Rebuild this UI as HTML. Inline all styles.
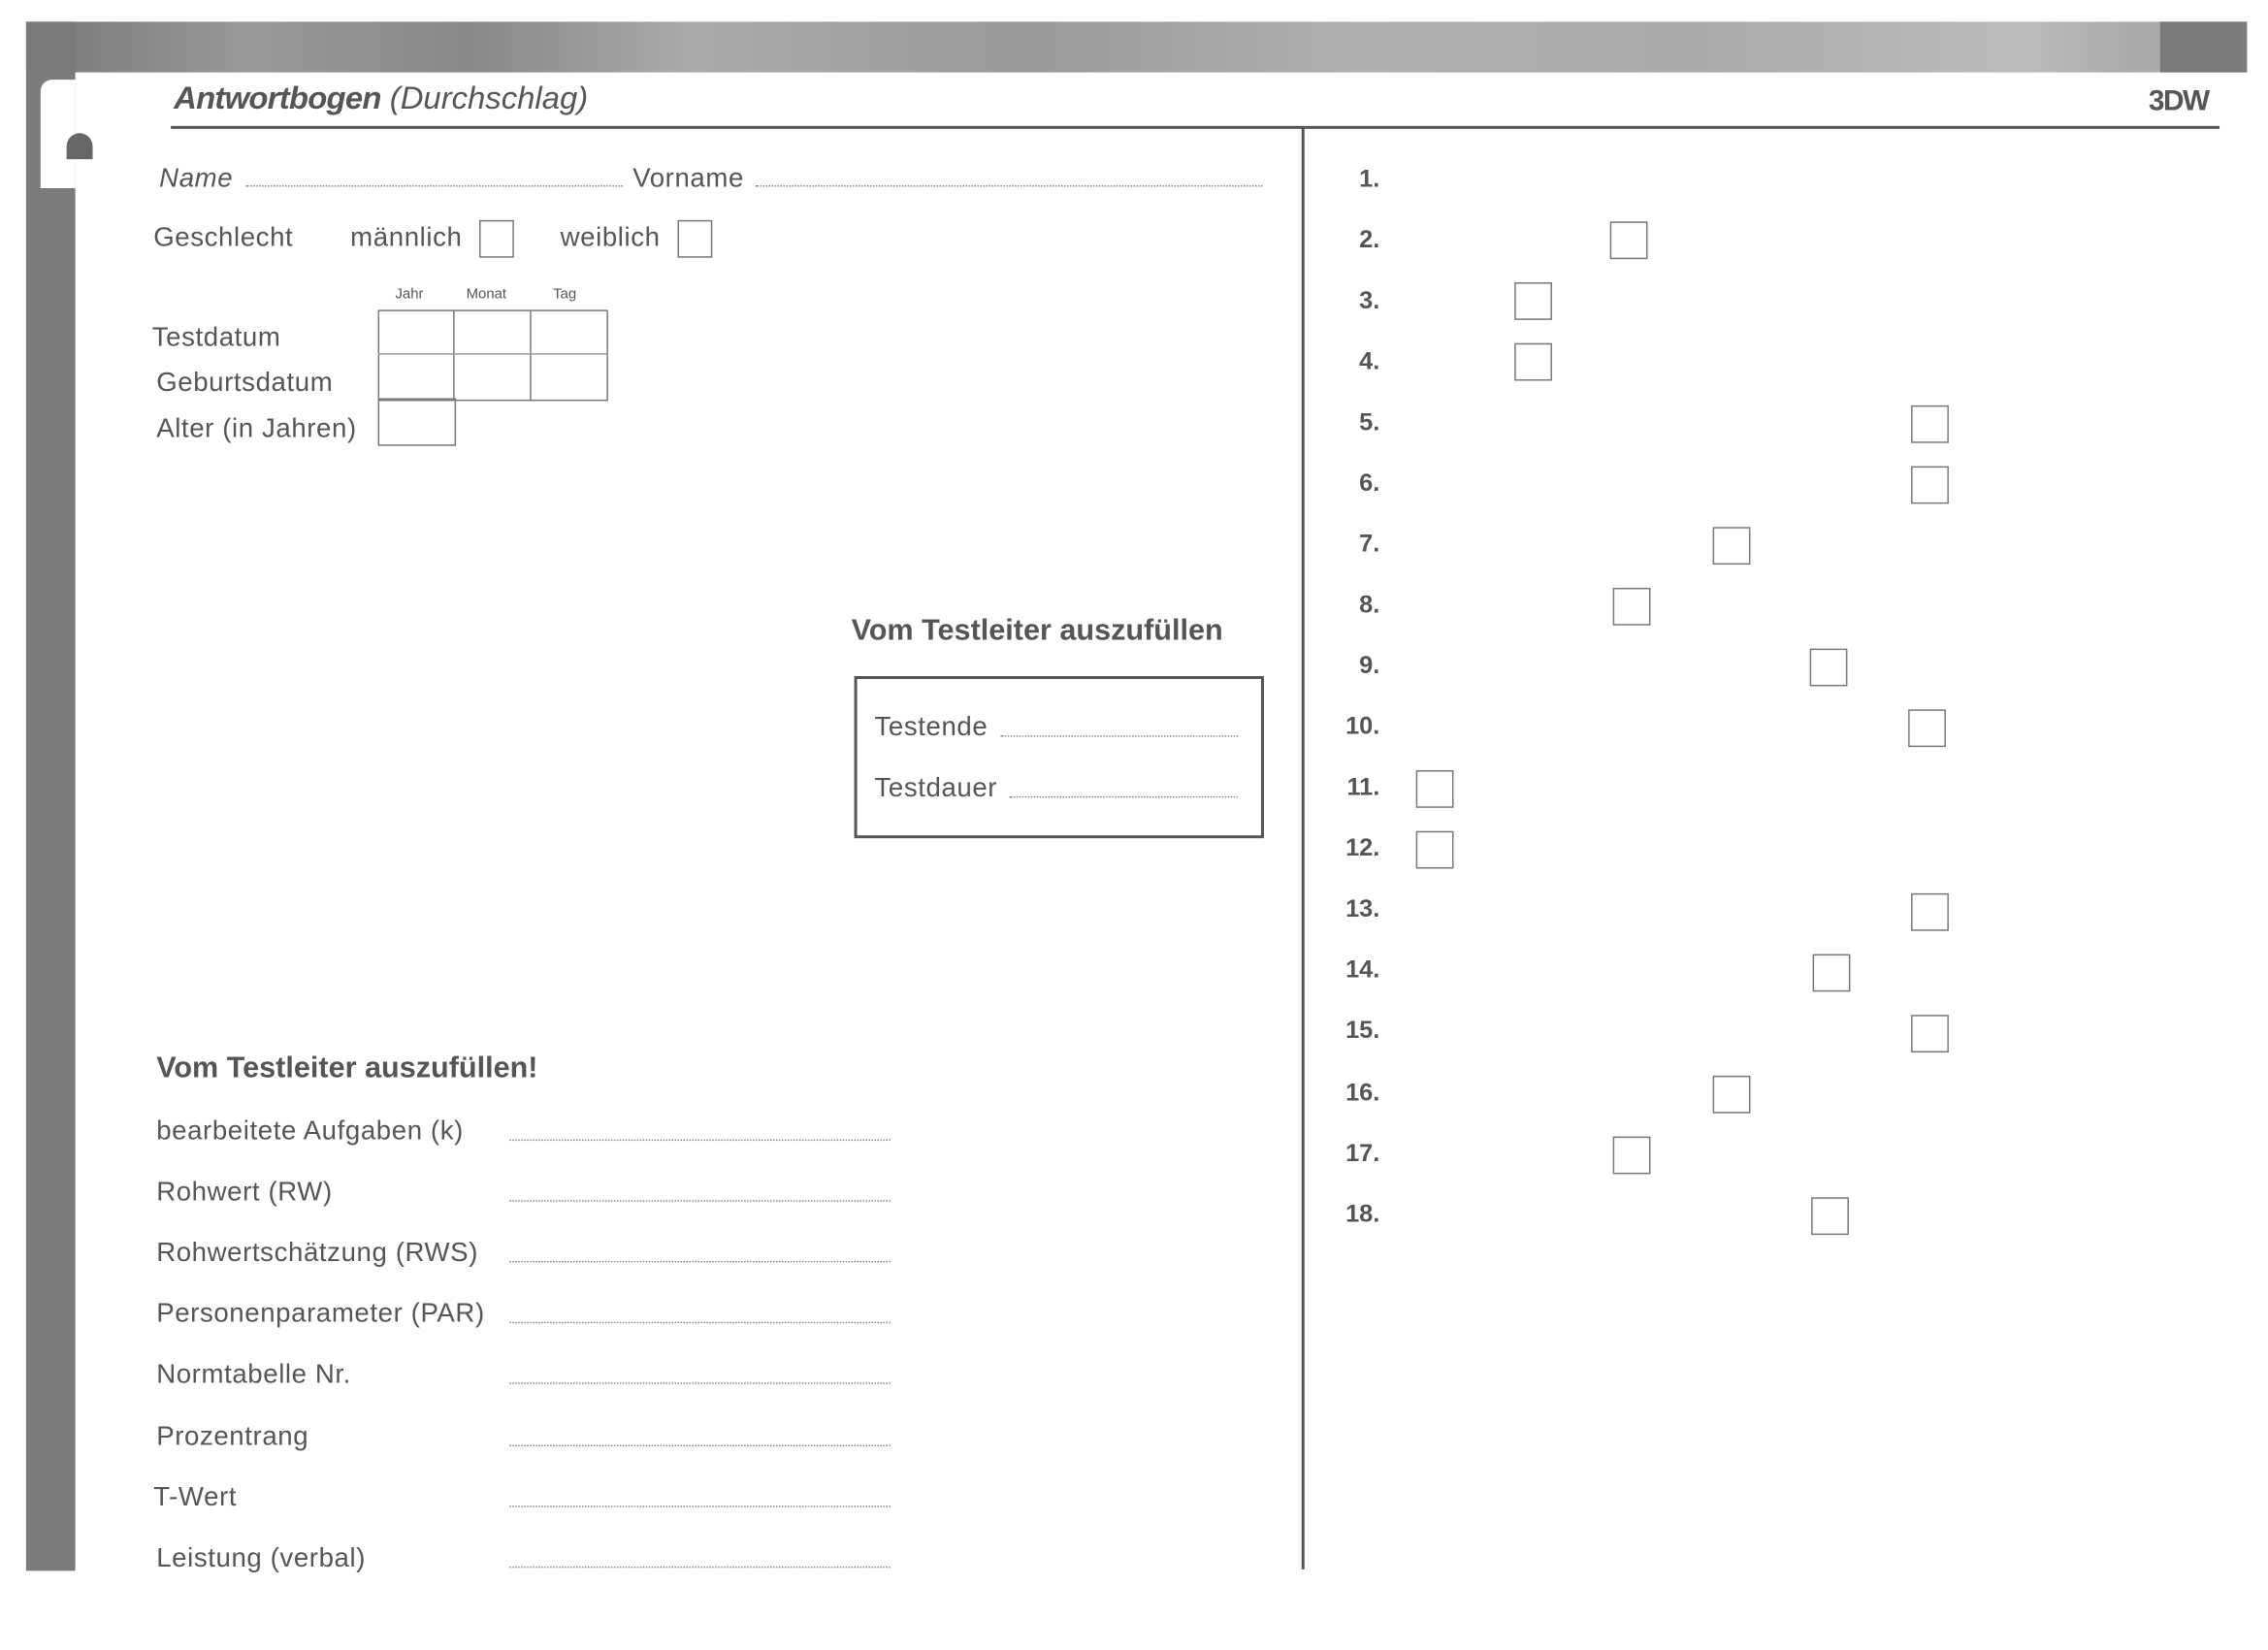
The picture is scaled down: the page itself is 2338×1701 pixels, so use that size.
<!DOCTYPE html>
<html><head><meta charset="utf-8"><style>
html,body{margin:0;padding:0;background:#fff;}
body{width:2338px;height:1700px;overflow:hidden;position:relative;}
#w{position:absolute;left:0;top:0;width:1567px;height:1140px;transform:scale(1.4925);transform-origin:0 0;font-family:"Liberation Sans",sans-serif;color:#555;}
.a{position:absolute;white-space:nowrap;}
.t{font-size:18.5px;line-height:20px;letter-spacing:0.4px;}
.dl{position:absolute;border-top:1px dotted #888;height:0;}
.bx{position:absolute;width:24px;height:24px;border:1px solid #777;}
.n{position:absolute;width:40px;text-align:right;font-weight:bold;font-size:17px;line-height:20px;left:913px;}
.g{position:absolute;border:1px solid #777;}
</style></head><body><div id="w">
<div class="a" style="left:18px;top:15px;width:1534px;height:35px;background:linear-gradient(90deg,#777 0%,#999 10%,#888 20%,#aaa 30%,#999 45%,#b0b0b0 60%,#aaa 75%,#bbb 90%,#aaa 95%)"></div>
<div class="a" style="left:1492px;top:15px;width:60px;height:35px;background:#7a7a7a"></div>
<div class="a" style="left:18px;top:15px;width:34px;height:1070px;background:#7b7b7b"></div>
<div class="a" style="left:28px;top:55px;width:24px;height:75px;background:#fff;border-radius:8px 0 0 0"></div>
<div class="a" style="left:46px;top:92px;width:18px;height:18px;background:#666;border-radius:10px 10px 0 0"></div>
<div class="a" style="left:120px;top:55px;font-size:22px;line-height:26px;font-style:italic;"><b style="letter-spacing:-0.5px">Antwortbogen</b> (Durchschlag)</div>
<div class="a" style="left:1484px;top:58px;font-size:20px;font-weight:bold;line-height:24px;letter-spacing:-1px">3DW</div>
<div class="a" style="left:118px;top:87px;width:1415px;height:2px;background:#555"></div>
<div class="a" style="left:899px;top:88px;width:2px;height:996px;background:#555"></div>
<div class="a t" style="left:110px;top:113px;font-style:italic">Name</div>
<div class="dl" style="left:170px;top:128px;width:260px"></div>
<div class="a t" style="left:437px;top:113px;">Vorname</div>
<div class="dl" style="left:522px;top:128px;width:350px"></div>
<div class="a t" style="left:106px;top:154px;">Geschlecht</div>
<div class="a t" style="left:242px;top:154px;">männlich</div>
<div class="bx" style="left:331px;top:152px;width:22px"></div>
<div class="a t" style="left:387px;top:154px;">weiblich</div>
<div class="bx" style="left:468px;top:152px;width:22px"></div>
<div class="a" style="left:273px;top:198px;font-size:10px">Jahr</div>
<div class="a" style="left:322px;top:198px;font-size:10px">Monat</div>
<div class="a" style="left:382px;top:198px;font-size:10px">Tag</div>
<div class="g" style="left:261px;top:214px;width:157px;height:61px"></div>
<div class="a" style="left:313px;top:214px;width:1px;height:62px;background:#777"></div>
<div class="a" style="left:366px;top:214px;width:1px;height:62px;background:#777"></div>
<div class="a" style="left:261px;top:244px;width:158px;height:1px;background:#999"></div>
<div class="g" style="left:261px;top:275px;width:52px;height:31px"></div>
<div class="a t" style="left:105px;top:223px;">Testdatum</div>
<div class="a t" style="left:108px;top:254px;">Geburtsdatum</div>
<div class="a t" style="left:108px;top:286px;">Alter (in Jahren)</div>
<div class="a" style="left:588px;top:424px;font-size:20.5px;font-weight:bold;line-height:24px;">Vom Testleiter auszufüllen</div>
<div class="a" style="left:590px;top:467px;width:279px;height:108px;border:2px solid #555"></div>
<div class="a t" style="left:604px;top:492px;">Testende</div>
<div class="dl" style="left:691px;top:508px;width:164px"></div>
<div class="a t" style="left:604px;top:534px;">Testdauer</div>
<div class="dl" style="left:697px;top:550px;width:158px"></div>
<div class="a" style="left:108px;top:726px;font-size:20.5px;font-weight:bold;line-height:24px;">Vom Testleiter auszufüllen!</div>
<div class="a t" style="left:108px;top:771px;">bearbeitete Aufgaben (k)</div>
<div class="a t" style="left:108px;top:813px;">Rohwert (RW)</div>
<div class="a t" style="left:108px;top:855px;">Rohwertschätzung (RWS)</div>
<div class="a t" style="left:108px;top:897px;">Personenparameter (PAR)</div>
<div class="a t" style="left:108px;top:939px;">Normtabelle Nr.</div>
<div class="a t" style="left:108px;top:982px;">Prozentrang</div>
<div class="a t" style="left:106px;top:1024px;">T-Wert</div>
<div class="a t" style="left:108px;top:1066px;">Leistung (verbal)</div>
<div class="dl" style="left:352px;top:787px;width:263px"></div>
<div class="dl" style="left:352px;top:829px;width:263px"></div>
<div class="dl" style="left:352px;top:871px;width:263px"></div>
<div class="dl" style="left:352px;top:913px;width:263px"></div>
<div class="dl" style="left:352px;top:955px;width:263px"></div>
<div class="dl" style="left:352px;top:998px;width:263px"></div>
<div class="dl" style="left:352px;top:1040px;width:263px"></div>
<div class="dl" style="left:352px;top:1082px;width:263px"></div>
<div class="n" style="top:114px">1.</div>
<div class="n" style="top:156px">2.</div><div class="bx" style="left:1112px;top:153px"></div>
<div class="n" style="top:198px">3.</div><div class="bx" style="left:1046px;top:195px"></div>
<div class="n" style="top:240px">4.</div><div class="bx" style="left:1046px;top:237px"></div>
<div class="n" style="top:282px">5.</div><div class="bx" style="left:1320px;top:280px"></div>
<div class="n" style="top:324px">6.</div><div class="bx" style="left:1320px;top:322px"></div>
<div class="n" style="top:366px">7.</div><div class="bx" style="left:1183px;top:364px"></div>
<div class="n" style="top:408px">8.</div><div class="bx" style="left:1114px;top:406px"></div>
<div class="n" style="top:450px">9.</div><div class="bx" style="left:1250px;top:448px"></div>
<div class="n" style="top:492px">10.</div><div class="bx" style="left:1318px;top:490px"></div>
<div class="n" style="top:534px">11.</div><div class="bx" style="left:978px;top:532px"></div>
<div class="n" style="top:576px">12.</div><div class="bx" style="left:978px;top:574px"></div>
<div class="n" style="top:618px">13.</div><div class="bx" style="left:1320px;top:617px"></div>
<div class="n" style="top:660px">14.</div><div class="bx" style="left:1252px;top:659px"></div>
<div class="n" style="top:702px">15.</div><div class="bx" style="left:1320px;top:701px"></div>
<div class="n" style="top:745px">16.</div><div class="bx" style="left:1183px;top:743px"></div>
<div class="n" style="top:787px">17.</div><div class="bx" style="left:1114px;top:785px"></div>
<div class="n" style="top:829px">18.</div><div class="bx" style="left:1251px;top:827px"></div>
</div></body></html>
